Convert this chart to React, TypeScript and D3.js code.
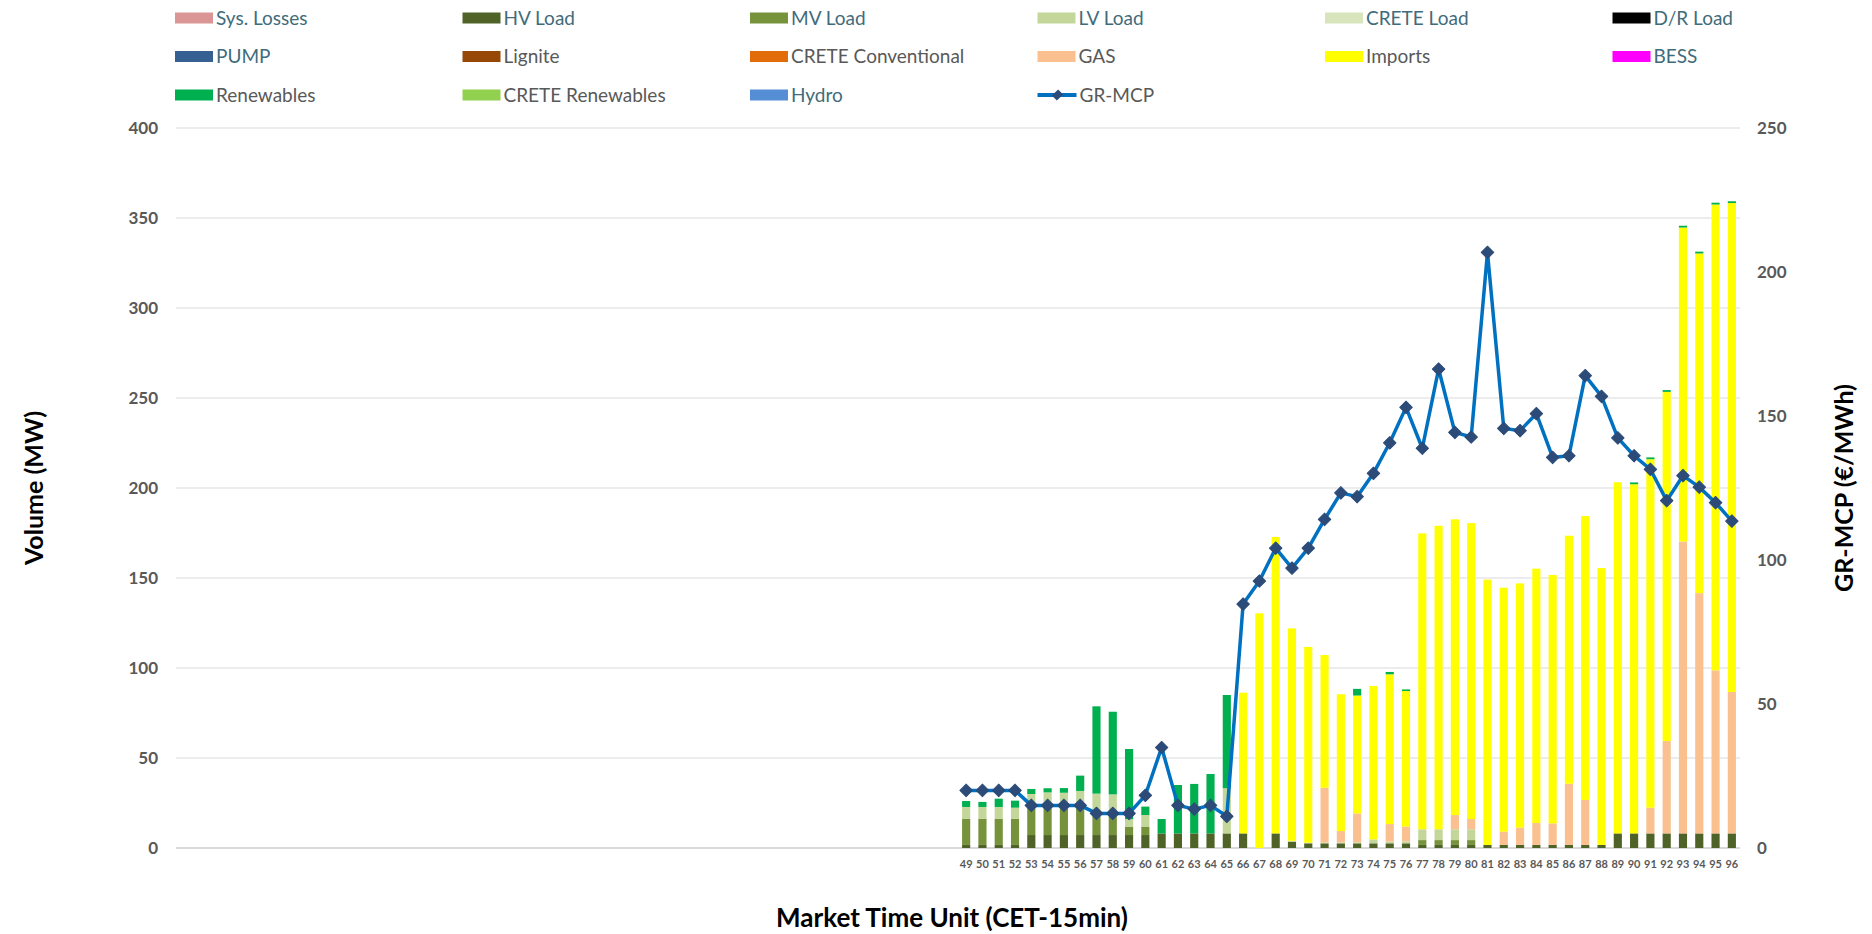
import { useMemo } from "react";
import * as d3 from "d3";

const WIDTH = 1872;
const HEIGHT = 934;

// the day has 96 market time units, only the second half carries data
const allUnits = d3.range(1, 97).map(String);
const units = [
  "49", "50", "51", "52", "53", "54", "55", "56", "57", "58", "59", "60",
  "61", "62", "63", "64", "65", "66", "67", "68", "69", "70", "71", "72",
  "73", "74", "75", "76", "77", "78", "79", "80", "81", "82", "83", "84",
  "85", "86", "87", "88", "89", "90", "91", "92", "93", "94", "95", "96",
];

const hvLoad = [
  1.7, 1.7, 1.7, 1.7, 7.2, 7.2, 7.2, 7.2, 7.2, 7.2, 7.2, 7.2,
  8.1, 8.1, 8.1, 8.1, 8.1, 8.1, 0, 8.1, 3.5, 2.6, 2.6, 2.6,
  2.6, 2.6, 2.6, 2.6, 1.7, 1.7, 1.7, 1.7, 1.7, 1.7, 1.7, 1.7,
  1.7, 1.7, 1.7, 1.7, 8.1, 8.1, 8.1, 8.1, 8.1, 8.1, 8.1, 8.1,
];
const mvLoad = [
  14.6, 14.6, 14.6, 14.6, 16.3, 17.0, 17.0, 17.5, 13.5, 13.0, 4.7, 4.7,
  0, 0, 0, 0, 0, 0, 0, 0, 0, 0, 0, 0,
  0, 0, 0, 0, 2.7, 2.7, 2.7, 2.7, 0, 0, 0, 0,
  0, 0, 0, 0, 0, 0, 0, 0, 0, 0, 0, 0,
];
const lvLoad = [
  6.5, 6.5, 6.5, 6.1, 6.5, 6.7, 6.5, 7.0, 9.5, 9.6, 4.1, 6.4,
  0, 0, 0, 0, 25.1, 0, 0, 0, 0.5, 0.3, 0.5, 0.5,
  0.6, 2.2, 1.0, 1.1, 6.0, 6.0, 6.0, 6.0, 0, 0, 0, 0,
  0, 0, 0, 0, 0, 0, 0, 0, 0, 0, 0, 0,
];
const gas = [
  0, 0, 0, 0, 0, 0, 0, 0, 0, 0, 0, 0,
  0, 0, 0, 0, 0, 0, 0, 0, 0, 0, 30.4, 6.3,
  16.0, 0, 9.7, 8.2, 0, 0, 7.9, 5.7, 0, 7.4, 9.6, 12.2,
  12.0, 34.0, 25.0, 0, 0, 0, 14.3, 51.3, 162.2, 133.5, 90.6, 78.6,
];
const imports = [
  0, 0, 0, 0, 0, 0, 0, 0, 0, 0, 0, 0,
  0, 0, 0, 0, 0, 78.2, 130.4, 164.7, 118.0, 108.8, 73.7, 76.0,
  65.5, 85.2, 83.2, 75.3, 164.4, 168.6, 164.3, 164.4, 147.4, 135.5, 135.7, 141.3,
  138.0, 137.8, 157.7, 153.8, 195.1, 194.0, 193.6, 194.0, 174.4, 188.7, 258.8, 271.6,
];
const renewables = [
  3.3, 2.8, 4.6, 3.9, 2.8, 2.3, 2.6, 8.5, 48.5, 45.9, 39.0, 4.7,
  8.0, 26.9, 27.5, 33.0, 51.8, 0, 0, 0, 0, 0, 0, 0,
  3.7, 0, 1.3, 0.9, 0, 0, 0, 0, 0, 0, 0, 0,
  0, 0, 0, 0, 0, 1.0, 1.0, 1.0, 1.0, 1.0, 1.0, 1.0,
];
const grMcp = [
  20.0, 20.0, 20.0, 20.0, 14.8, 14.8, 14.8, 14.8, 12.0, 12.0, 12.0, 18.3,
  34.9, 14.8, 13.5, 14.8, 11.0, 84.7, 92.7, 104.1, 97.2, 104.1, 114.1, 123.3,
  122.0, 130.1, 140.7, 153.0, 138.8, 166.3, 144.3, 142.7, 206.8, 145.7, 144.9, 150.8,
  135.6, 136.2, 164.0, 156.8, 142.4, 136.2, 131.5, 120.6, 129.3, 125.3, 119.9, 113.5,
];

const volumeTicks = [0, 50, 100, 150, 200, 250, 300, 350, 400];
const priceTicks = [0, 50, 100, 150, 200, 250];

const TEAL = "#3f6c7b";
const GREY = "#595959";

// legend order is also the stacking order, bottom to top
const legendItems = [
  { key: "sysLosses", label: "Sys. Losses", color: "#da9694", text: TEAL },
  { key: "hvLoad", label: "HV Load", color: "#4f6228", text: TEAL },
  { key: "mvLoad", label: "MV Load", color: "#76933c", text: TEAL },
  { key: "lvLoad", label: "LV Load", color: "#c4d79b", text: TEAL },
  { key: "creteLoad", label: "CRETE Load", color: "#d8e4bc", text: TEAL },
  { key: "drLoad", label: "D/R Load", color: "#000000", text: TEAL },
  { key: "pump", label: "PUMP", color: "#366092", text: TEAL },
  { key: "lignite", label: "Lignite", color: "#974706", text: GREY },
  { key: "creteConv", label: "CRETE Conventional", color: "#e26b0a", text: GREY },
  { key: "gas", label: "GAS", color: "#fac090", text: GREY },
  { key: "imports", label: "Imports", color: "#ffff00", text: GREY },
  { key: "bess", label: "BESS", color: "#ff00ff", text: TEAL },
  { key: "renewables", label: "Renewables", color: "#00b050", text: GREY },
  { key: "creteRen", label: "CRETE Renewables", color: "#92d050", text: GREY },
  { key: "hydro", label: "Hydro", color: "#558ed5", text: TEAL },
];

const seriesData: Record<string, number[]> = {
  hvLoad,
  mvLoad,
  lvLoad,
  gas,
  imports,
  renewables,
};

const LINE_COLOR = "#0070c0";
const MARKER_COLOR = "#2c4b78";
const FONT = "Lato, 'Open Sans', sans-serif";

const plot = { left: 176, right: 1740, top: 128, bottom: 848 };

export default function App() {
  const x = d3
    .scaleBand<string>()
    .domain(allUnits)
    .range([plot.left, plot.right])
    .paddingInner(0.5)
    .paddingOuter(0.25);
  const y = d3.scaleLinear().domain([0, 400]).range([plot.bottom, plot.top]);
  const y2 = d3.scaleLinear().domain([0, 250]).range([plot.bottom, plot.top]);

  const layers = useMemo(() => {
    const rows = units.map((u, i) => {
      const row: Record<string, number | string> = { unit: u };
      Object.keys(seriesData).forEach((k) => (row[k] = seriesData[k][i]));
      return row;
    });
    return d3
      .stack<Record<string, number | string>>()
      .keys(legendItems.map((d) => d.key))
      .value((d, k) => (typeof d[k] === "number" ? (d[k] as number) : 0))(rows);
  }, []);

  const cx = (u: string) => (x(u) ?? 0) + x.bandwidth() / 2;

  const linePath =
    d3
      .line<number>()
      .x((_d, i) => cx(units[i]))
      .y((d) => y2(d))(grMcp) ?? "";

  const marker = d3.symbol(d3.symbolSquare, 78)() ?? "";

  const colX = (i: number) => 175 + i * 287.5;
  const rowY = (i: number) => 18 + i * 38.5;
  const midY = (plot.top + plot.bottom) / 2;

  return (
    <svg
      width={WIDTH}
      height={HEIGHT}
      style={{ position: "absolute", left: 0, top: 0, background: "#fff" }}
      fontFamily={FONT}
    >
      {/* legend */}
      {legendItems.map((d, i) => {
        const lx = colX(i % 6);
        const ly = rowY(Math.floor(i / 6));
        return (
          <g key={d.key}>
            <rect x={lx} y={ly - 5.5} width={38} height={11} fill={d.color} />
            <text x={lx + 41} y={ly} dy="0.35em" fontSize={19} fill={d.text}>
              {d.label}
            </text>
          </g>
        );
      })}
      <g>
        <line
          x1={colX(3)}
          x2={colX(3) + 39}
          y1={rowY(2)}
          y2={rowY(2)}
          stroke={LINE_COLOR}
          strokeWidth={4}
        />
        <path
          d={marker}
          transform={`translate(${colX(3) + 20},${rowY(2)}) rotate(45) scale(0.8,1)`}
          fill={MARKER_COLOR}
        />
        <text x={colX(3) + 42} y={rowY(2)} dy="0.35em" fontSize={19} fill={GREY}>
          GR-MCP
        </text>
      </g>

      {/* grid */}
      {volumeTicks.slice(1).map((t) => (
        <line
          key={t}
          x1={plot.left}
          x2={plot.right}
          y1={y(t)}
          y2={y(t)}
          stroke="#d9d9d9"
          strokeWidth={1.2}
        />
      ))}
      <line
        x1={plot.left}
        x2={plot.right}
        y1={y(0)}
        y2={y(0)}
        stroke="#d9d9d9"
        strokeWidth={2}
      />

      {/* stacked bars */}
      {layers.map((layer) => {
        const item = legendItems.find((d) => d.key === layer.key)!;
        return (
          <g key={layer.key} fill={item.color}>
            {layer.map((seg, i) =>
              seg[1] - seg[0] > 0 ? (
                <rect
                  key={i}
                  x={x(units[i])}
                  y={y(seg[1])}
                  width={x.bandwidth()}
                  height={y(seg[0]) - y(seg[1])}
                />
              ) : null
            )}
          </g>
        );
      })}

      {/* price line */}
      <path
        d={linePath}
        fill="none"
        stroke={LINE_COLOR}
        strokeWidth={3.5}
        strokeLinejoin="round"
      />
      {grMcp.map((v, i) => (
        <path
          key={i}
          d={marker}
          transform={`translate(${cx(units[i])},${y2(v)}) rotate(45)`}
          fill={MARKER_COLOR}
          stroke={MARKER_COLOR}
          strokeWidth={1}
          strokeLinejoin="round"
        />
      ))}

      {/* left axis */}
      {volumeTicks.map((t) => (
        <text
          key={t}
          x={158}
          y={y(t)}
          dy="0.35em"
          textAnchor="end"
          fontSize={17}
          fontWeight={700}
          fill={GREY}
        >
          {t}
        </text>
      ))}
      {/* right axis */}
      {priceTicks.map((t) => (
        <text
          key={t}
          x={1757}
          y={y2(t)}
          dy="0.35em"
          fontSize={17}
          fontWeight={700}
          fill={GREY}
        >
          {t}
        </text>
      ))}
      {/* x axis labels */}
      {units.map((u) => (
        <text
          key={u}
          x={cx(u)}
          y={864}
          dy="0.35em"
          textAnchor="middle"
          fontSize={11}
          fontWeight={700}
          fill={GREY}
        >
          {u}
        </text>
      ))}

      {/* axis titles */}
      <text
        x={952}
        y={927}
        textAnchor="middle"
        fontSize={26}
        fontWeight={700}
        fill="#000"
      >
        Market Time Unit (CET-15min)
      </text>
      <text
        transform={`translate(34,${midY}) rotate(-90)`}
        textAnchor="middle"
        dy="0.35em"
        fontSize={25}
        fontWeight={700}
        fill="#000"
      >
        Volume (MW)
      </text>
      <text
        transform={`translate(1844,${midY}) rotate(-90)`}
        textAnchor="middle"
        dy="0.35em"
        fontSize={25}
        fontWeight={700}
        fill="#000"
      >
        GR-MCP (€/MWh)
      </text>
    </svg>
  );
}
